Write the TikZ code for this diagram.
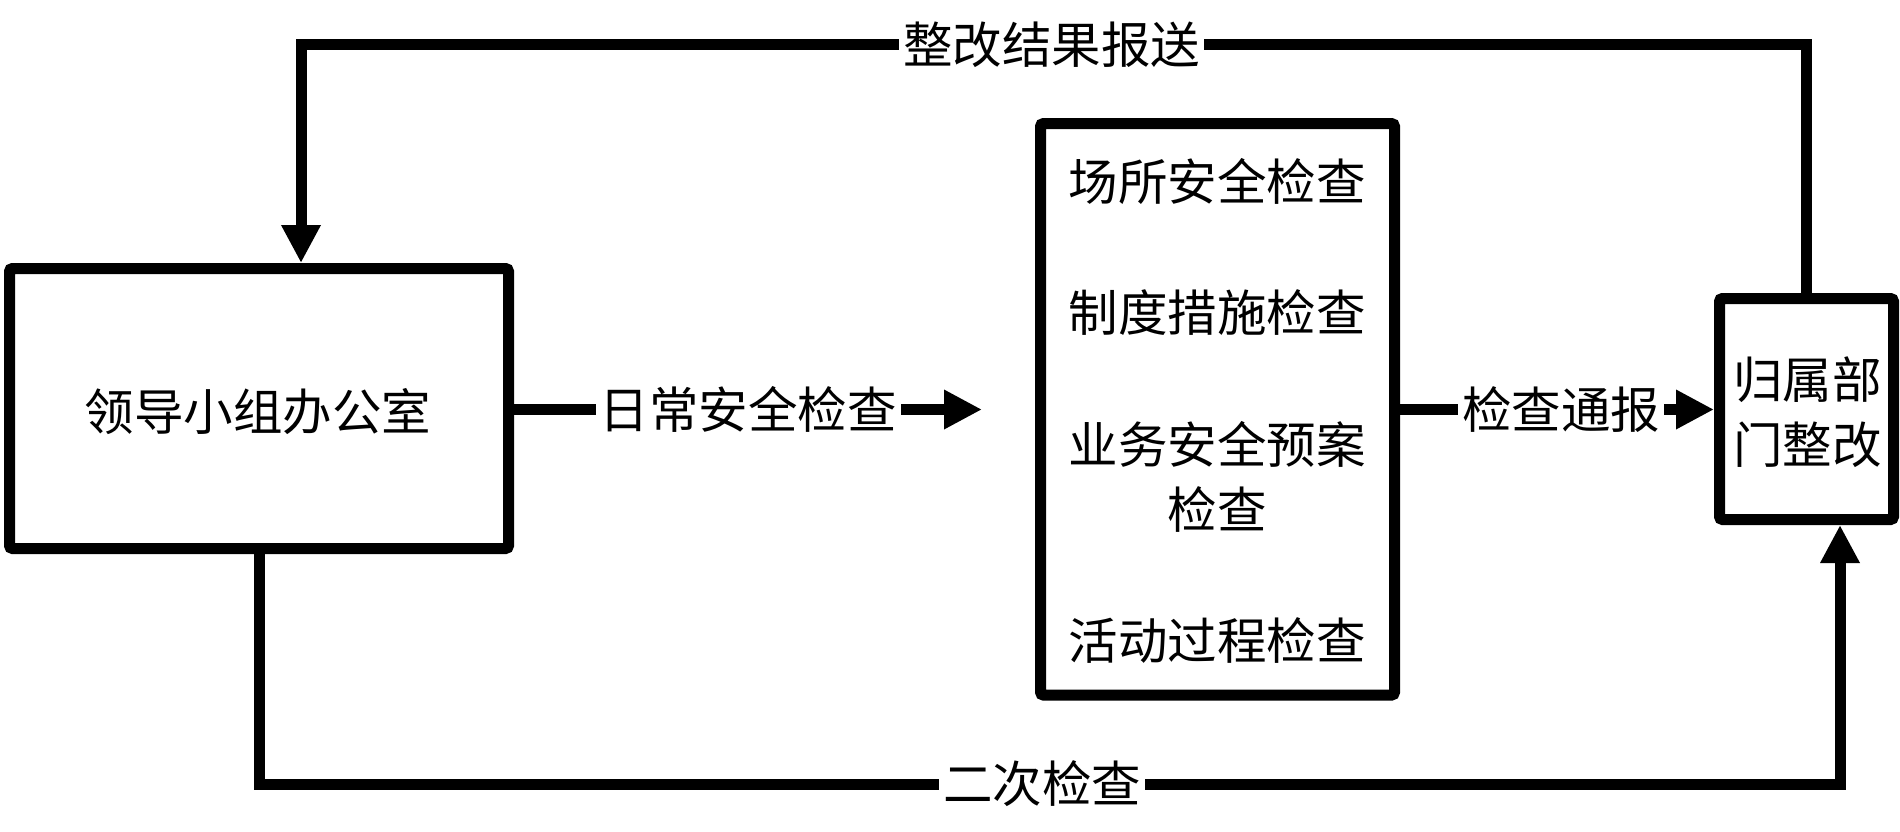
\documentclass[tikz,border=0pt]{standalone}
\usepackage{fontspec}
\setmainfont{Noto Sans CJK SC}
\usetikzlibrary{arrows.meta}
\tikzset{
  box/.style={draw, line width=11pt, rounded corners=3pt, fill=white, inner sep=0pt},
  conn/.style={line width=11pt, line join=miter},
  tipend/.style={-{Triangle[length=38pt,width=37pt]}},
  txt/.style={font=\fontsize{49.5}{64}\selectfont, inner sep=0pt, text height=43.5pt, text depth=6pt},
  lbl/.style={txt, fill=white, inner xsep=4pt, inner ysep=2pt},
}
\begin{document}
\begin{tikzpicture}[x=1pt,y=-1pt]
\useasboundingbox (0,0) rectangle (1900,831);
% boxes
\node[box, minimum width=499pt, minimum height=280pt] (lb) at (259,408.5) {};
\node[box, minimum width=354pt, minimum height=571.5pt] (mb) at (1217.5,409.3) {};
\node[box, minimum width=174pt, minimum height=221pt] (rb) at (1806.5,409) {};
% texts
\node[txt] (lbt) at (258,412) {领导小组办公室};
\node[txt] (m1) at (1217,182) {场所安全检查};
\node[txt] (m2) at (1217,313) {制度措施检查};
\node[txt] (m3) at (1217,445) {业务安全预案};
\node[txt] (m4) at (1217,510) {检查};
\node[txt] (m5) at (1217,641) {活动过程检查};
\node[txt] (r1) at (1807.5,380) {归属部};
\node[txt] (r2) at (1807.5,444.5) {门整改};
% connectors
\coordinate (a1) at (982,409.5);
\draw[conn,tipend] (lb.east |- a1) -- (a1) node[lbl, pos=0.5] (l1) {日常安全检查};
\coordinate (a2) at (1400,409.5);
\draw[conn,tipend] (mb.east |- a2) -- (rb.west |- a2) node[lbl, pos=0.513] (l2) {检查通报};
\coordinate (tc) at (301,44.5);
\draw[conn,tipend] (rb.north) |- (tc) -- (tc |- lb.north);
\node[lbl] (l3) at (1051.5,44.5) {整改结果报送};
\coordinate (bc) at (1840,784);
\draw[conn,tipend] (lb.south) |- (bc) -- (bc |- rb.south);
\node[lbl] (l4) at (1042,784) {二次检查};
\end{tikzpicture}
\end{document}
